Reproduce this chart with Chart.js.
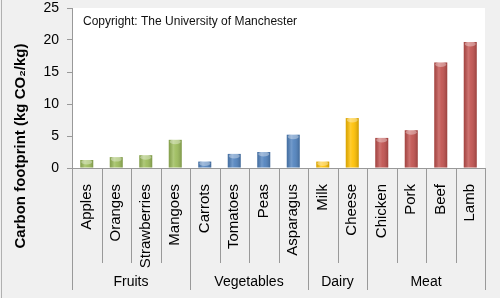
<!DOCTYPE html>
<html>
<head>
<meta charset="utf-8">
<script src="https://cdn.jsdelivr.net/npm/chart.js@4"></script>
<style>
  html, body { margin: 0; padding: 0; background: #f0f0f0; }
  #wrap { width: 500px; height: 298px; }
</style>
</head>
<body>
<div id="wrap"><canvas id="footprintChart" width="500" height="298"></canvas></div>
<script>
const foods = ["Apples", "Oranges", "Strawberries", "Mangoes", "Carrots", "Tomatoes", "Peas", "Asparagus", "Milk", "Cheese", "Chicken", "Pork", "Beef", "Lamb"]
const footprint = [1.25, 1.7, 2.0, 4.4, 1.0, 2.2, 2.5, 5.2, 1.0, 7.8, 4.7, 5.9, 16.5, 19.7]
const groups = ["Fruits", "Vegetables", "Dairy", "Meat"]
const group_sizes = [4, 4, 2, 4]
const y_ticks = [0, 5, 10, 15, 20, 25]

const group_colors = ["#9bbb59", "#4f81bd", "#ffc000", "#c0504d"]
const font_family = "'Liberation Sans', Arial, sans-serif"

// colour of each bar follows the group it sits in
const bar_colors = []
group_sizes.forEach((size, g) =>
{
  for (let i = 0; i < size; i++) bar_colors.push(group_colors[g])
})

const frame_plugin =
{
  id: "frame",
  beforeDraw(chart)
  {
    const ctx = chart.ctx
    const area = chart.chartArea
    ctx.save()
    ctx.fillStyle = "#f0f0f0"
    ctx.fillRect(0, 0, chart.width, chart.height)
    ctx.fillStyle = "#ffffff"
    ctx.fillRect(area.left, area.top, area.right - area.left, area.bottom - area.top)
    ctx.strokeStyle = "#b0b0b0"
    ctx.beginPath()
    ctx.moveTo(1.5, 0)
    ctx.lineTo(1.5, chart.height)
    ctx.stroke()
    ctx.restore()
  },
  afterDatasetsDraw(chart)
  {
    const ctx = chart.ctx
    const meta = chart.getDatasetMeta(0)
    ctx.save()
    meta.data.forEach((bar) =>
    {
      const p = bar.getProps(["x", "y", "base", "width"], true)
      const left = p.x - p.width / 2
      const grad = ctx.createLinearGradient(left, 0, left + p.width, 0)
      grad.addColorStop(0, "rgba(0,0,0,0.15)")
      grad.addColorStop(0.35, "rgba(255,255,255,0.2)")
      grad.addColorStop(0.55, "rgba(255,255,255,0.08)")
      grad.addColorStop(1, "rgba(0,0,0,0.2)")
      ctx.fillStyle = grad
      ctx.fillRect(left, p.y, p.width, p.base - p.y)
      // light cap on top of the bar
      ctx.fillStyle = "rgba(255,255,255,0.35)"
      ctx.beginPath()
      ctx.ellipse(p.x, p.y + 2, p.width / 2 - 1, 2.5, 0, 0, Math.PI * 2)
      ctx.fill()
    })
    ctx.restore()
  },
  afterDraw(chart)
  {
    const ctx = chart.ctx
    const area = chart.chartArea
    const x_scale = chart.scales.x
    const step = (area.right - area.left) / foods.length
    ctx.save()

    ctx.fillStyle = "#111"
    ctx.font = "12px " + font_family
    ctx.textBaseline = "middle"
    ctx.fillText("Copyright: The University of Manchester", area.left + 11, area.top + 14)

    ctx.strokeStyle = "#999"
    ctx.lineWidth = 1
    // separators between foods
    for (let i = 0; i <= foods.length; i++)
    {
      const x = Math.round(x_scale.getPixelForValue(i) - step / 2) + 0.5
      ctx.beginPath()
      ctx.moveTo(x, area.bottom)
      ctx.lineTo(x, area.bottom + 95)
      ctx.stroke()
    }

    // group separators and labels
    let start = 0
    ctx.font = "14px " + font_family
    ctx.textAlign = "center"
    ctx.fillStyle = "#000"
    groups.forEach((name, g) =>
    {
      const end = start + group_sizes[g]
      const x0 = x_scale.getPixelForValue(start) - step / 2
      const x1 = x_scale.getPixelForValue(end - 1) + step / 2
      ;[x0, x1].forEach((x) =>
      {
        const xx = Math.round(x) + 0.5
        ctx.beginPath()
        ctx.moveTo(xx, area.bottom + 95)
        ctx.lineTo(xx, area.bottom + 122)
        ctx.stroke()
      })
      ctx.fillText(name, (x0 + x1) / 2, area.bottom + 114)
      start = end
    })

    // y axis title
    ctx.translate(21, 146)
    ctx.rotate(-Math.PI / 2)
    ctx.font = "bold 15px " + font_family
    ctx.fillText("Carbon footprint (kg CO\u2082/kg)", 0, 0)
    ctx.restore()
  }
}

const chart_context = document.getElementById("footprintChart").getContext("2d")

const footprint_chart = new Chart(chart_context,
{
  type: "bar",
  data:
  {
    labels: foods,
    datasets:
    [
      {
        data: footprint,
        backgroundColor: bar_colors,
        borderWidth: 0,
        barPercentage: 0.44,
        categoryPercentage: 1
      }
    ]
  },
  options:
  {
    responsive: false,
    animation: false,
    layout: { padding: { top: 8, right: 15, left: 0, bottom: 0 } },
    plugins:
    {
      legend: { display: false },
      tooltip: { enabled: false }
    },
    scales:
    {
      x:
      {
        grid: { display: false },
        border: { display: true, color: "#999" },
        ticks:
        {
          autoSkip: false,
          minRotation: 90,
          maxRotation: 90,
          padding: 8,
          color: "#000",
          font: { size: 15, family: font_family }
        },
        afterFit(scale)
        {
          scale.height = 130
          scale.paddingLeft = 0
          scale.paddingRight = 0
        }
      },
      y:
      {
        min: y_ticks[0],
        max: y_ticks[y_ticks.length - 1],
        border: { display: true, color: "#999" },
        grid: { drawOnChartArea: false, drawTicks: true, tickLength: 5, color: "#999" },
        ticks:
        {
          stepSize: 5,
          padding: 8,
          color: "#000",
          font: { size: 14, family: font_family }
        },
        afterFit(scale)
        {
          scale.width = 72
          scale.paddingTop = 0
          scale.paddingBottom = 0
        }
      }
    }
  },
  plugins: [frame_plugin]
})
</script>
</body>
</html>
